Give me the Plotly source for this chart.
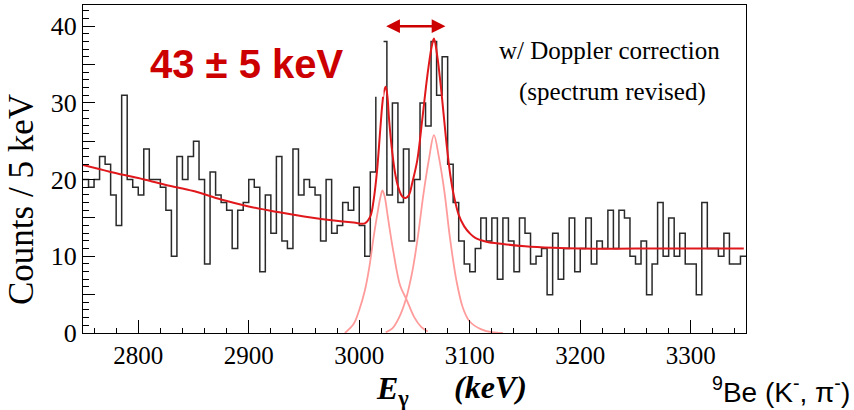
import plotly.graph_objects as go

# ---------------- data ----------------
bin_start = 2750
bin_width = 5
counts = [20, 19, 20, 23, 22, 18, 14, 31, 20, 19,
          18, 24, 20, 20, 19, 16, 10, 23, 20, 23,
          25, 20, 9, 21, 18, 17, 16, 11, 16, 17,
          20, 19, 8, 18, 13, 23, 12, 11, 24, 18,
          20, 19, 18, 12, 20, 13, 14, 17, 16, 19,
          14, 10, 21, 31, 38, 18, 30, 17, 24, 12,
          20, 30, 27, 38, 31, 36, 22, 17, 12, 9,
          8, 11, 15, 12, 15, 7, 15, 12, 8, 15,
          13, 9, 10, 11, 5, 13, 7, 11, 15, 8,
          11, 15, 9, 12, 11, 16, 11, 16, 15, 10,
          9, 12, 5, 9, 17, 10, 15, 10, 13, 9,
          9, 5, 17, 11, 11, 10, 13, 9, 9, 10]

fit_E = [2750, 2775, 2800, 2825, 2850, 2875, 2900, 2925, 2950, 2975, 2995,
         3005, 3010, 3013, 3016, 3019, 3021, 3022.5, 3024, 3025.5, 3027, 3030,
         3033, 3036, 3039, 3042, 3045, 3048, 3052.5, 3057, 3061.5, 3065.5,
         3067.6, 3070.5, 3073.5, 3076.5, 3079.5, 3082.5, 3085.5, 3090, 3095,
         3100, 3105, 3115, 3130, 3150, 3175, 3200, 3250, 3300, 3348]
fit_y = [21.9, 21.0, 20.2, 19.3, 18.5, 17.4, 16.5, 15.8, 15.2, 14.7, 14.4,
         14.3, 15.2, 17.3, 21.0, 26.5, 30.0, 31.6, 32.1, 30.8, 27.8, 23.4,
         20.4, 18.7, 17.8, 17.6, 18.0, 19.6, 22.5, 27.8, 33.4, 37.3,
         38.4, 36.2, 32.6, 28.3, 24.0, 20.5, 18.0, 15.4, 13.9,
         13.0, 12.4, 11.9, 11.6, 11.3, 11.1, 11.0, 11.0, 11.0, 11.0]

peak1_E = [2987, 2995, 3000, 3005, 3009, 3013, 3016, 3019, 3021, 3023,
           3026, 3031, 3037, 3043, 3050, 3056, 3062]
peak1_y = [0.0, 1.2, 3.0, 5.5, 8.5, 12.5, 15.2, 17.6, 18.6, 17.8,
           15.0, 10.5, 6.2, 4.3, 2.0, 0.8, 0.2]

peak2_E = [3024, 3030, 3036, 3042, 3048, 3053, 3058, 3063, 3067.6, 3072,
           3077, 3082, 3088, 3094, 3100, 3110, 3120, 3130]
peak2_y = [0.1, 0.6, 2.0, 4.3, 8.0, 12.5, 18.0, 22.6, 25.8, 23.0,
           18.5, 12.5, 6.8, 3.2, 1.5, 0.5, 0.1, 0.0]

x_major = [2800, 2900, 3000, 3100, 3200, 3300]
y_ticks = [0, 5, 10, 15, 20, 25, 30, 35, 40]
y_labels = ["0", "", "10", "", "20", "", "30", "", "40"]

# ---------------- figure ----------------
edges = [bin_start + bin_width * i for i in range(len(counts) + 1)]
step_y = counts + [counts[-1]]

serif = "Liberation Serif"
sans = "Liberation Sans"
red = "#cc0000"

fig = go.Figure()
fig.add_trace(go.Scatter(x=edges, y=step_y, mode="lines", line_shape="hv",
                         line=dict(color="#2a2a2a", width=1.5),
                         hoverinfo="skip", showlegend=False))
fig.add_trace(go.Scatter(x=peak1_E, y=peak1_y, mode="lines", line_shape="spline",
                         line=dict(color="#ff9b9b", width=1.8),
                         hoverinfo="skip", showlegend=False))
fig.add_trace(go.Scatter(x=peak2_E, y=peak2_y, mode="lines", line_shape="spline",
                         line=dict(color="#ff9b9b", width=1.8),
                         hoverinfo="skip", showlegend=False))
fig.add_trace(go.Scatter(x=fit_E, y=fit_y, mode="lines", line_shape="spline",
                         line=dict(color="#e0181c", width=2),
                         hoverinfo="skip", showlegend=False))

# white box behind the "43 ± 5 keV" label (it hides part of the spectrum)
fig.add_shape(type="rect", xref="x", yref="y", x0=2805, x1=3022, y0=30.8, y1=42.5,
              fillcolor="white", line=dict(width=0), layer="above")

fig.update_layout(
    width=854, height=410,
    margin=dict(l=83, r=108, t=5, b=77),
    paper_bgcolor="white", plot_bgcolor="white",
    xaxis=dict(range=[2750, 3350], tickvals=x_major, ticks="inside", ticklen=13,
               tickwidth=1, tickcolor="black", showgrid=False, zeroline=False,
               showline=True, linecolor="black", linewidth=1, mirror=True,
               tickfont=dict(family=serif, size=25, color="black"),
               minor=dict(dtick=20, tick0=2800, ticks="inside", ticklen=5,
                          tickcolor="black", showgrid=False)),
    yaxis=dict(range=[0, 42.76], tickvals=y_ticks, ticktext=y_labels,
               ticks="inside", ticklen=12, tickwidth=1, tickcolor="black",
               showgrid=False, zeroline=False, showline=True, linecolor="black",
               linewidth=1, mirror=True,
               tickfont=dict(family=serif, size=26, color="black"),
               minor=dict(dtick=1, tick0=0, ticks="inside", ticklen=6,
                          tickcolor="black", showgrid=False)),
)

def px_x(p):
    return (p - 83) / 663.0

def px_y(p):
    return (333 - p) / 328.0

annotations = [
    dict(text="<b>43 ± 5 keV</b>", x=px_x(247), y=px_y(64), xref="paper", yref="paper",
         showarrow=False, font=dict(family=sans, size=40, color=red),
         xanchor="center", yanchor="middle"),
    dict(text="w/ Doppler correction", x=px_x(609), y=px_y(50), xref="paper", yref="paper",
         showarrow=False, font=dict(family=serif, size=25, color="black"),
         xanchor="center", yanchor="middle"),
    dict(text="(spectrum revised)", x=px_x(612), y=px_y(92), xref="paper", yref="paper",
         showarrow=False, font=dict(family=serif, size=25, color="black"),
         xanchor="center", yanchor="middle"),
    dict(text="Counts / 5 keV", x=px_x(21), y=px_y(200), xref="paper", yref="paper",
         showarrow=False, textangle=-90, font=dict(family=serif, size=35, color="black"),
         xanchor="center", yanchor="middle"),
    dict(text="<b><i>E</i></b><sub><b>γ</b></sub>", x=px_x(392), y=px_y(390),
         xref="paper", yref="paper", showarrow=False,
         font=dict(family=serif, size=32, color="black"),
         xanchor="center", yanchor="middle"),
    dict(text="<b><i>(keV)</i></b>", x=px_x(490), y=px_y(387),
         xref="paper", yref="paper", showarrow=False,
         font=dict(family=serif, size=32, color="black"),
         xanchor="center", yanchor="middle"),
    dict(text="<sup>9</sup>Be (K<sup>-</sup>, π<sup>-</sup>)", x=px_x(852), y=px_y(390),
         xref="paper", yref="paper", showarrow=False,
         font=dict(family=sans, size=28, color="black"),
         xanchor="right", yanchor="middle"),
    dict(text="", x=3078, y=40, ax=3023, ay=40, xref="x", yref="y",
         axref="x", ayref="y", showarrow=True, arrowhead=2, arrowside="end+start",
         arrowsize=1.1, arrowwidth=2.5, arrowcolor=red),
]
fig.update_layout(annotations=annotations)

fig.write_html("out.html")
